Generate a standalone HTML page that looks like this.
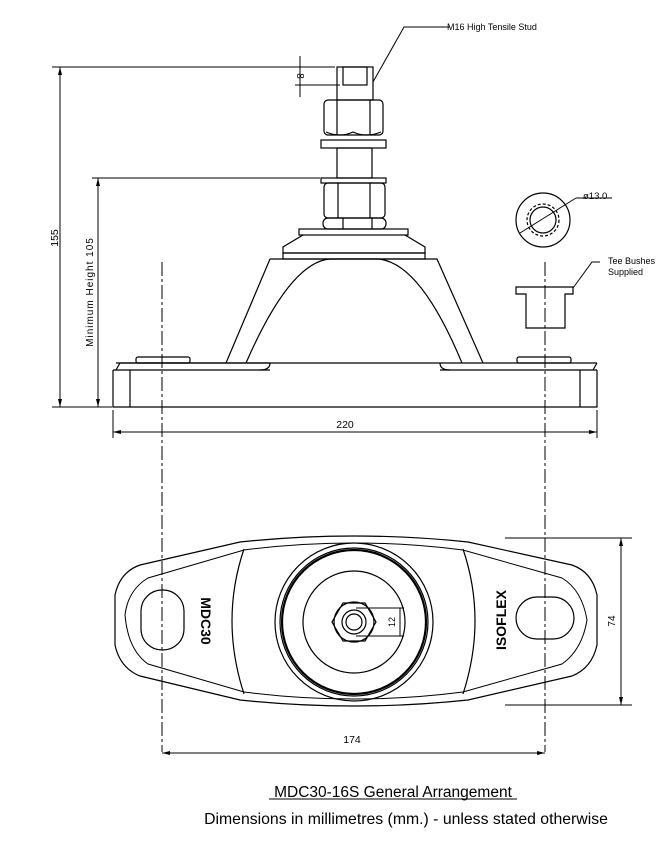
<!DOCTYPE html>
<html><head><meta charset="utf-8"><style>
html,body{margin:0;padding:0;background:#fff;}
svg{display:block;}
text{font-family:"Liberation Sans",Arial,sans-serif;fill:#000;}
</style></head><body>
<svg width="672" height="849" viewBox="0 0 672 849" xmlns="http://www.w3.org/2000/svg">
<g fill="none" stroke="#000" stroke-width="1.2">
<rect x="337" y="67" width="36" height="33"/>
<rect x="343" y="67" width="24" height="18"/>
<rect x="324" y="100" width="59" height="35" rx="4"/>
<line x1="337" y1="100" x2="337" y2="135"/><line x1="370" y1="100" x2="370" y2="135"/>
<path d="M326 132 Q340 138 353 132 Q366 138 381 132"/>
<rect x="321" y="140" width="65" height="8"/>
<rect x="337" y="148" width="35" height="30"/>
<rect x="321" y="178" width="65" height="5"/>
<rect x="324" y="183" width="61" height="35" rx="4"/>
<line x1="338" y1="183" x2="338" y2="218"/><line x1="370" y1="183" x2="370" y2="218"/>
<rect x="323" y="218" width="63" height="11" rx="5"/>
<line x1="343" y1="218" x2="343" y2="229"/><line x1="372" y1="218" x2="372" y2="229"/>
<rect x="299" y="229" width="109" height="6"/>
<path d="M303 235 L283 247 L283 253 L425 253 L425 247 L405 235"/>
<rect x="283" y="253" width="142" height="6"/>
<path d="M270 259 L437 259 L483 363"/>
<path d="M270 259 L226 363"/>
<path d="M246 363 Q290 262 330 259 L378 259 Q420 262 462 363"/>
<path d="M113 370 L113 407 L597 407 L597 370"/>
<line x1="130" y1="370" x2="130" y2="407"/><line x1="580" y1="370" x2="580" y2="407"/>
<line x1="113" y1="370" x2="270" y2="370"/>
<line x1="440" y1="370" x2="597" y2="370"/>
<path d="M116 370 L120 363 L597 363"/>
<line x1="116" y1="363" x2="270" y2="363"/>
<path d="M270 363 Q270 370 260 370"/><path d="M440 363 Q440 370 450 370"/>
<path d="M597 363 L593 370"/>
<rect x="136" y="357" width="54" height="6" rx="2"/>
<rect x="517" y="357" width="54" height="6" rx="2"/>
<circle cx="543" cy="220" r="27"/>
<circle cx="543" cy="220" r="13"/>
<circle cx="543" cy="220" r="16" stroke-dasharray="3,2"/>
<line x1="520" y1="233" x2="576" y2="198" stroke-width="1"/>
<line x1="576" y1="198" x2="612" y2="198" stroke-width="1"/>
<path d="M516 287 H573 V294 H565 V328 H526 V294 H516 Z"/>
<path d="M573 288 L592 262 H600" stroke-width="1"/>
<path d="M373 82 L404 27 H450" stroke-width="1"/>
</g>
<g fill="none" stroke="#000" stroke-width="1">
<line x1="52" y1="67" x2="335" y2="67"/>
<line x1="52" y1="407" x2="112" y2="407"/>
<line x1="60" y1="67" x2="60" y2="407"/>
<line x1="92" y1="178" x2="320" y2="178"/>
<line x1="98" y1="178" x2="98" y2="407"/>
<line x1="295" y1="85" x2="340" y2="85"/>
<line x1="300" y1="56" x2="300" y2="97"/>
<line x1="113" y1="410" x2="113" y2="438"/>
<line x1="597" y1="410" x2="597" y2="438"/>
<line x1="113" y1="432" x2="597" y2="432"/>
<line x1="162" y1="262" x2="162" y2="752" stroke-dasharray="14,3,3,3"/>
<line x1="545" y1="262" x2="545" y2="752" stroke-dasharray="14,3,3,3"/>
<line x1="162" y1="753" x2="545" y2="753"/>
<line x1="505" y1="538" x2="632" y2="538"/>
<line x1="505" y1="705" x2="632" y2="705"/>
<line x1="621" y1="538" x2="621" y2="705"/>
</g>
<g fill="#000">
<path d="M60 67 l-2 8 h4z"/><path d="M60 407 l-2 -8 h4z"/>
<path d="M98 178 l-2 8 h4z"/><path d="M98 407 l-2 -8 h4z"/>
<path d="M113 432 l8 -2 v4z"/><path d="M597 432 l-8 -2 v4z"/>
<path d="M162 753 l8 -2 v4z"/><path d="M545 753 l-8 -2 v4z"/>
<path d="M621 538 l-2 8 h4z"/><path d="M621 705 l-2 -8 h4z"/>
</g>
<g fill="none" stroke="#000" stroke-width="1.2">
<path d="M140 565 Q120 572 115 595 L115 645 Q120 668 140 676 L240 700 Q354 712 468 700 L572 676 Q592 668 597 645 L597 595 Q592 572 572 565 L468 542 Q354 530 240 542 Z"/>
<path d="M148 578 Q128 590 125 615 Q128 650 148 664 L244 692 Q354 706 463 692 L562 664 Q582 650 587 620 Q582 590 562 578 L463 550 Q354 536 244 550 Z" stroke-width="1"/>
<path d="M244 549 Q220 620 244 694"/>
<path d="M463 549 Q487 620 463 694"/>
<rect x="141" y="590" width="43" height="60" rx="21"/>
<rect x="516" y="597" width="58" height="42" rx="21"/>
<circle cx="354" cy="622" r="79"/>
<circle cx="354" cy="622" r="74"/>
<circle cx="354" cy="622" r="72" stroke-width="2.2"/>
<circle cx="354" cy="622" r="51"/>
<polygon points="376,622 365,641 343,641 332,622 343,603 365,603"/>
<circle cx="354" cy="622" r="20"/>
<circle cx="354" cy="622" r="12"/>
<circle cx="354" cy="622" r="8"/>
<path d="M356 608 H404 M356 636 H404 M400 608 V636" stroke-width="1"/>
</g>
<text x="447" y="30" font-size="9">M16 High Tensile Stud</text>
<text x="583" y="199" font-size="9.5">ø13.0</text>
<text x="608" y="264" font-size="9">Tee Bushes</text>
<text x="608" y="275" font-size="9">Supplied</text>
<text x="345" y="428" font-size="10.5" text-anchor="middle">220</text>
<text x="352" y="743" font-size="10.5" text-anchor="middle">174</text>
<text transform="translate(297,76) rotate(90)" font-size="10" text-anchor="middle">8</text>
<text transform="translate(58,238) rotate(-90)" font-size="10.5" text-anchor="middle">155</text>
<text transform="translate(93,292) rotate(-90)" font-size="10" text-anchor="middle" letter-spacing="1">Minimum Height 105</text>
<text transform="translate(615,621) rotate(-90)" font-size="10" text-anchor="middle">74</text>
<text transform="translate(395,622) rotate(-90)" font-size="9" text-anchor="middle">12</text>
<text transform="translate(201,621) rotate(90)" font-size="14" font-weight="bold" text-anchor="middle">MDC30</text>
<text transform="translate(506,620) rotate(-90)" font-size="14" font-weight="bold" text-anchor="middle">ISOFLEX</text>
<text x="393" y="797" font-size="15.5" text-anchor="middle">MDC30-16S General Arrangement</text>
<line x1="269" y1="799" x2="517" y2="799" stroke="#000" stroke-width="1"/>
<text x="406" y="824" font-size="15.8" text-anchor="middle">Dimensions in millimetres (mm.) - unless stated otherwise</text>
</svg>
</body></html>
